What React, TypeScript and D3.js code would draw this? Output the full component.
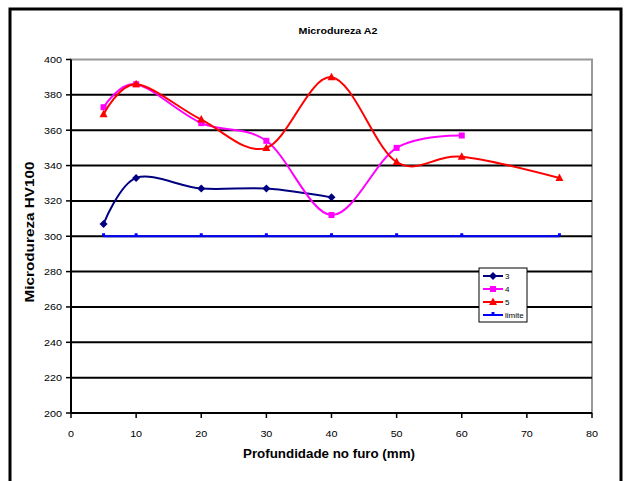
import React from "react";
import * as d3 from "d3";

const W = 627;
const H = 481;

const depthsS3 = [5, 10, 20, 30, 40];
const valuesS3 = [307, 333, 327, 327, 322];

const depthsS4 = [5, 10, 20, 30, 40, 50, 60];
const valuesS4 = [373, 386, 364, 354, 312, 350, 357];

const depthsS5 = [5, 10, 20, 30, 40, 50, 60, 75];
const valuesS5 = [369, 386, 366, 350, 390, 342, 345, 333];

const depthsLimit = [5, 10, 20, 30, 40, 50, 60, 75];
const valuesLimit = [300, 300, 300, 300, 300, 300, 300, 300];

const xTicks = [0, 10, 20, 30, 40, 50, 60, 70, 80];
const yTicks = [200, 220, 240, 260, 280, 300, 320, 340, 360, 380, 400];

const seriesNames = ["3", "4", "5", "limite"];

const FONT = "'Liberation Sans', Arial, sans-serif";

type Pt = { x: number; y: number };
const zip = (xs: number[], ys: number[]): Pt[] => xs.map((x, i) => ({ x, y: ys[i] }));

export default function App() {
  const left = 71;
  const right = 592;
  const top = 59.5;
  const bottom = 413;

  const x = d3.scaleLinear().domain([0, 80]).range([left, right]);
  const y = d3.scaleLinear().domain([200, 400]).range([bottom, top]);

  const line = d3
    .line<Pt>()
    .x((d) => x(d.x))
    .y((d) => y(d.y))
    .curve(d3.curveCatmullRom.alpha(0));

  const series = [
    { name: seriesNames[0], data: zip(depthsS3, valuesS3), color: "#000080", marker: "diamond" },
    { name: seriesNames[1], data: zip(depthsS4, valuesS4), color: "#FF00FF", marker: "square" },
    { name: seriesNames[2], data: zip(depthsS5, valuesS5), color: "#FF0000", marker: "triangle" },
    { name: seriesNames[3], data: zip(depthsLimit, valuesLimit), color: "#0000FF", marker: "dot" },
  ];

  const drawMarker = (kind: string, cx: number, cy: number, color: string, key: string | number) => {
    if (kind === "diamond") {
      return (
        <path key={key} d={`M${cx},${cy - 4}L${cx + 4},${cy}L${cx},${cy + 4}L${cx - 4},${cy}Z`} fill={color} />
      );
    }
    if (kind === "square") {
      return <rect key={key} x={cx - 3} y={cy - 3} width={6} height={6} fill={color} />;
    }
    if (kind === "triangle") {
      return (
        <path key={key} d={`M${cx},${cy - 4.5}L${cx + 4},${cy + 3}L${cx - 4},${cy + 3}Z`} fill={color} />
      );
    }
    return <rect key={key} x={cx - 1.5} y={cy - 3} width={3} height={3} fill={color} />;
  };

  const legX = 479;
  const legY = 268;
  const legW = 48;
  const legH = 54;

  return (
    <svg width={W} height={H} style={{ position: "absolute", left: 0, top: 0 }} fontFamily={FONT}>
      <rect x={0} y={0} width={W} height={H} fill="#ffffff" />
      {/* outer chart frame */}
      <rect x={10} y={9} width={611} height={H + 10} fill="none" stroke="#000" strokeWidth={3} />

      <text
        x={338}
        y={34}
        textAnchor="middle"
        fontSize={9.5}
        fontWeight="bold"
        textLength={79}
        lengthAdjust="spacingAndGlyphs"
      >
        Microdureza A2
      </text>

      {/* plot area border */}
      <rect x={left} y={top} width={right - left} height={bottom - top} fill="#fff" stroke="#999" strokeWidth={2} />

      {/* horizontal gridlines */}
      {yTicks.slice(1, -1).map((t) => (
        <line key={t} x1={left} x2={right} y1={y(t)} y2={y(t)} stroke="#000" strokeWidth={2} />
      ))}

      {/* y axis */}
      <line x1={left} x2={left} y1={top} y2={bottom} stroke="#000" strokeWidth={2} />
      {yTicks.map((t) => (
        <g key={t}>
          <line x1={left - 5} x2={left} y1={y(t)} y2={y(t)} stroke="#000" strokeWidth={1.5} />
          <text
            x={left - 9}
            y={y(t) + 3.5}
            textAnchor="end"
            fontSize={9.5}
            textLength={String(t).length * 6}
            lengthAdjust="spacingAndGlyphs"
          >
            {t}
          </text>
        </g>
      ))}

      {/* x axis */}
      <line x1={left} x2={right} y1={bottom} y2={bottom} stroke="#000" strokeWidth={2} />
      {xTicks.map((t) => (
        <g key={t}>
          <line x1={x(t)} x2={x(t)} y1={bottom} y2={bottom + 5} stroke="#000" strokeWidth={1.5} />
          <text
            x={x(t)}
            y={bottom + 24}
            textAnchor="middle"
            fontSize={9.5}
            textLength={String(t).length * 6}
            lengthAdjust="spacingAndGlyphs"
          >
            {t}
          </text>
        </g>
      ))}

      <text
        x={329}
        y={458}
        textAnchor="middle"
        fontSize={12}
        fontWeight="bold"
        textLength={172}
        lengthAdjust="spacingAndGlyphs"
      >
        Profundidade no furo (mm)
      </text>
      <text
        transform={`translate(34,232) rotate(-90)`}
        textAnchor="middle"
        fontSize={12.5}
        fontWeight="bold"
        textLength={141}
        lengthAdjust="spacingAndGlyphs"
      >
        Microdureza HV100
      </text>

      {/* series */}
      {series.map((s) => (
        <g key={s.name}>
          <path d={line(s.data) || ""} fill="none" stroke={s.color} strokeWidth={2} />
          {s.data.map((d, i) => drawMarker(s.marker, x(d.x), y(d.y), s.color, i))}
        </g>
      ))}

      {/* legend */}
      <rect x={legX} y={legY} width={legW} height={legH} fill="#fff" stroke="#000" strokeWidth={1} />
      {series.map((s, i) => {
        const ly = legY + 8 + i * 13;
        return (
          <g key={s.name}>
            <line x1={legX + 4} x2={legX + 24} y1={ly} y2={ly} stroke={s.color} strokeWidth={2} />
            {drawMarker(s.marker, legX + 14, ly, s.color, "m")}
            <text x={legX + 26} y={ly + 3} fontSize={8}>
              {s.name}
            </text>
          </g>
        );
      })}
    </svg>
  );
}
